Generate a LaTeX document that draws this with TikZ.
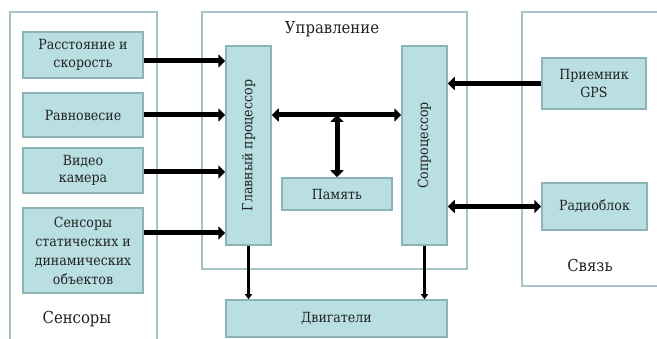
\documentclass[tikz,border=0pt]{standalone}
\usepackage{fontspec}
\setmainfont{DejaVu Serif Condensed}
\usetikzlibrary{arrows.meta}

\definecolor{boxfill}{HTML}{B9DFE2}
\definecolor{boxline}{HTML}{8CB3B6}
\definecolor{groupline}{HTML}{A6C4C5}
\definecolor{ink}{HTML}{222222}

\tikzset{
	unit/.style={draw=boxline,fill=boxfill,line width=1.5pt,inner sep=0pt,align=center,
		text=ink,font=\fontsize{14}{17.5}\selectfont},
	group/.style={draw=groupline,line width=1.3pt},
	title/.style={text=ink,font=\fontsize{16.5}{20}\selectfont},
	bigarrow/.style={line width=5pt,-{Triangle[length=7pt,width=13pt]}},
	bigarrows/.style={line width=5pt,{Triangle[length=7pt,width=13pt]}-{Triangle[length=7pt,width=13pt]}},
	smallarrow/.style={line width=2.5pt,-{Triangle[length=5pt,width=7pt]}}
}

\begin{document}
\begin{tikzpicture}[x=1pt,y=-1pt]
		\useasboundingbox (0,0) rectangle (657,339);
		\clip (0,0) rectangle (657,339);
		% groups
		\draw[group] (10,12) rectangle (157,350);
		\draw[group] (202,12) rectangle (467,269);
		\draw[group] (522,12) rectangle (680,286);
		\node[title] at (77,319) {Сенсоры};
		\node[title] at (332,29) {Управление};
		\node[title] at (590,265) {Связь};
		% sensors
		\node[unit,minimum width=120,minimum height=46] (dist) at (83,55) {Расстояние и\\скорость};
		\node[unit,minimum width=120,minimum height=44] (bal) at (83,115) {Равновесие};
		\node[unit,minimum width=120,minimum height=45] (cam) at (83,170.5) {Видео\\камера};
		\node[unit,minimum width=120,minimum height=85,font=\fontsize{14}{19}\selectfont] (obj) at (83,250.5) {Сенсоры\\статических и\\динамических\\объектов};
		% control
		\node[unit,minimum width=45,minimum height=199] (gp) at (248.5,145.5) {\rotatebox{90}{Главный процессор}};
		\node[unit,minimum width=45,minimum height=199] (cop) at (424.5,145.5) {\rotatebox{90}{Сопроцессор}};
		\node[unit,minimum width=110,minimum height=32] (mem) at (337,194) {Память};
		\node[unit,minimum width=221,minimum height=37] (mot) at (336.5,318.5) {Двигатели};
		% link
		\node[unit,minimum width=104,minimum height=51] (gps) at (594,83.5) {Приемник\\GPS};
		\node[unit,minimum width=105,minimum height=47] (radio) at (594.5,206.5) {Радиоблок};

		\foreach \n/\s in {dist/-6,bal/0,cam/-1.5,obj/17.5}{
			\draw[bigarrow] ([yshift=\s]\n.east) -- ([yshift=\s]\n.east -| gp.west);
		}
		\coordinate (bus) at ([yshift=30.5]gp.east);
		\draw[bigarrows] (bus) -- (bus -| cop.west);
		\draw[bigarrows] (bus -| mem.north) -- (mem.north);
		\draw[bigarrow] (gps.west) -- (gps.west -| cop.east);
		\draw[bigarrows] (radio.west) -- (radio.west -| cop.east);
		\draw[smallarrow] (gp.south) -- (gp.south |- mot.north);
		\draw[smallarrow] (cop.south) -- (cop.south |- mot.north);
	\end{tikzpicture}
\end{document}
